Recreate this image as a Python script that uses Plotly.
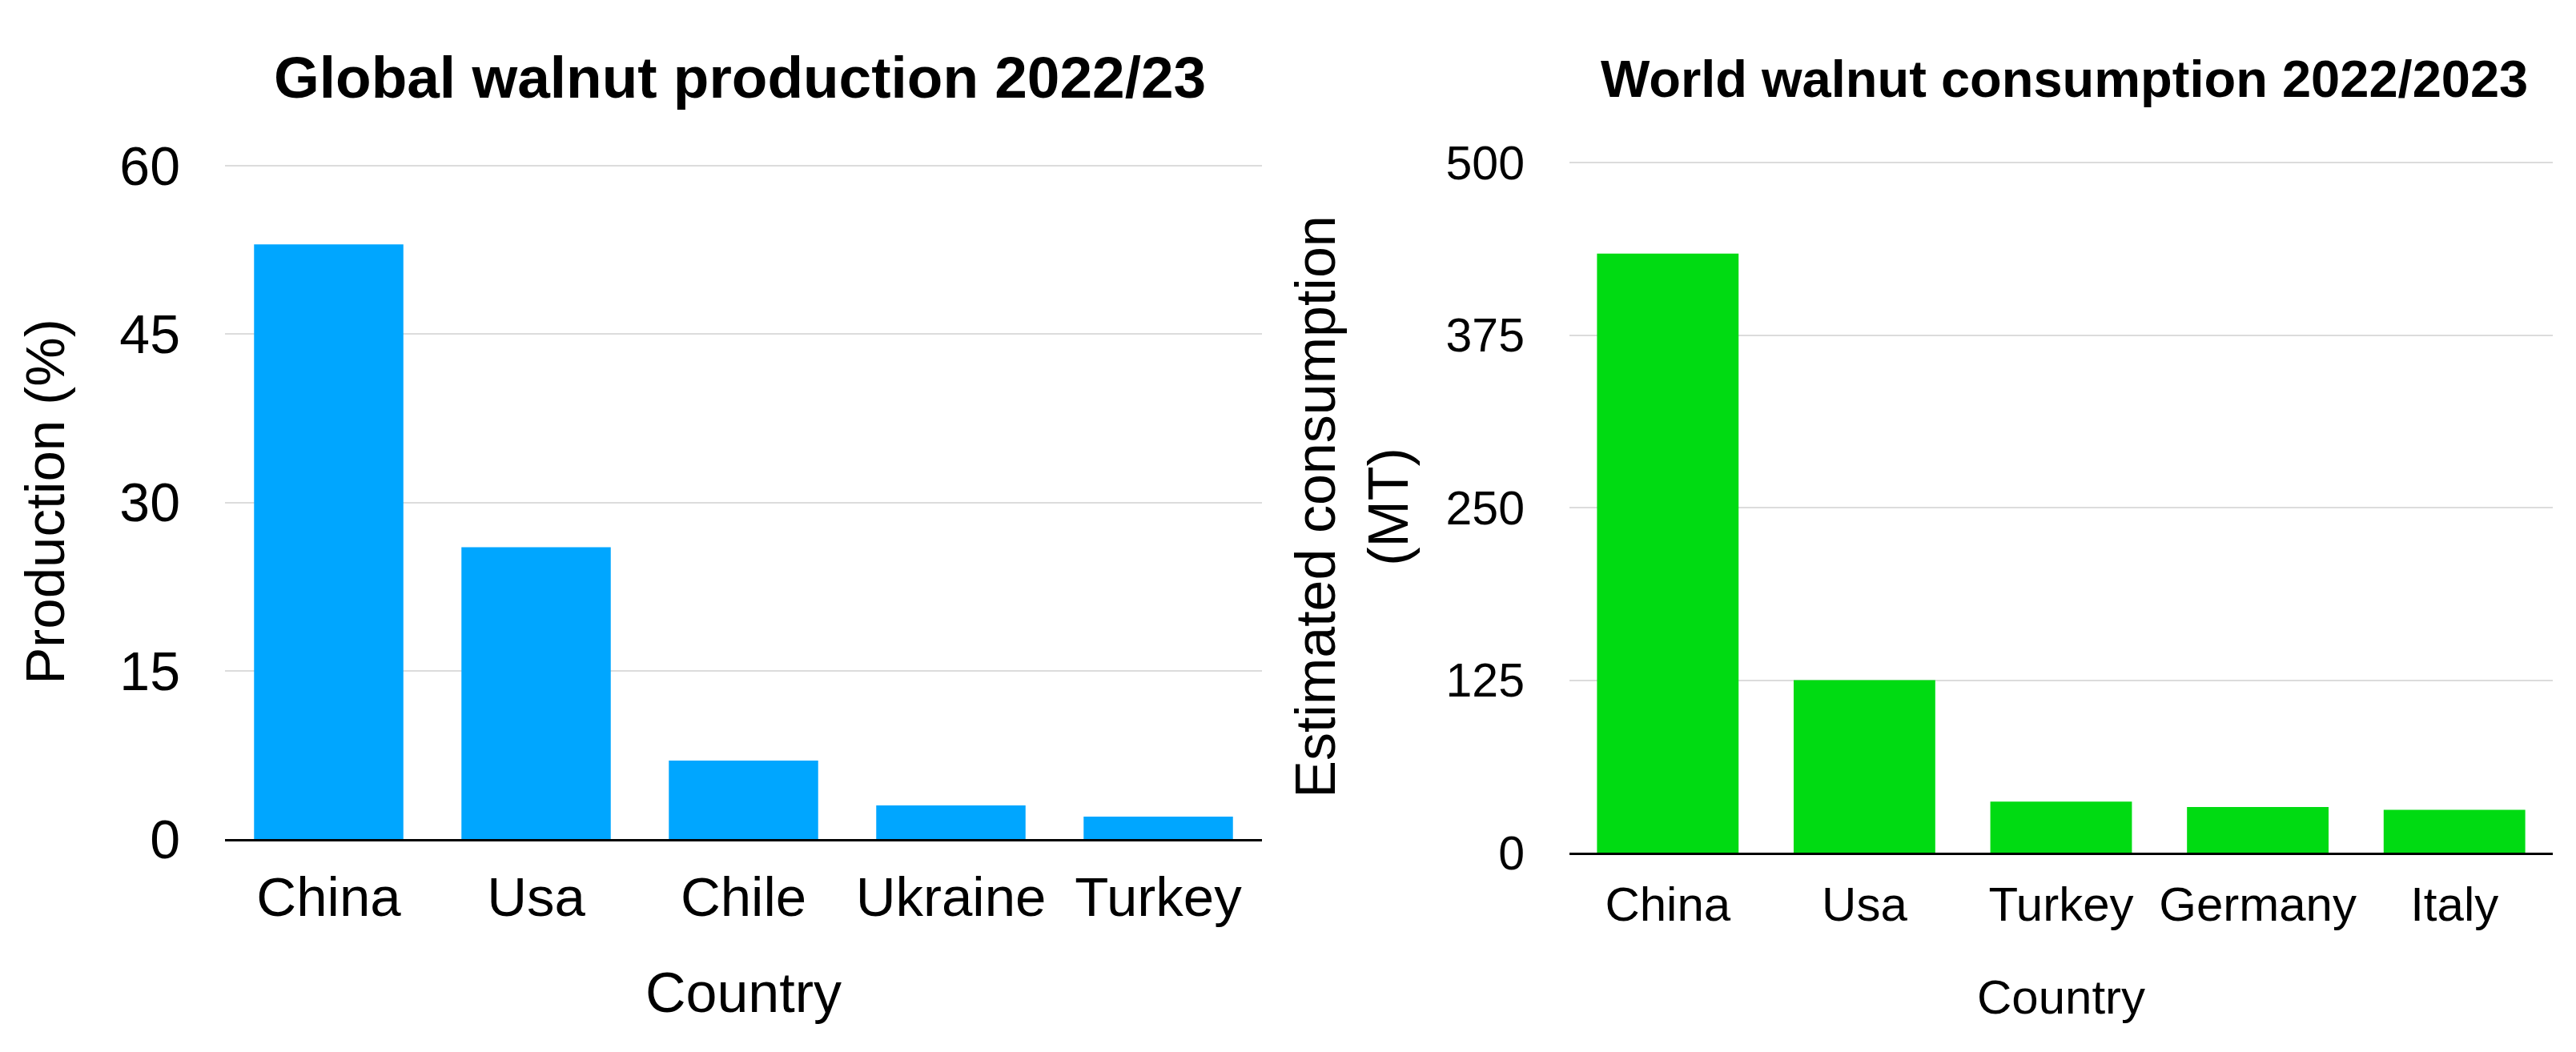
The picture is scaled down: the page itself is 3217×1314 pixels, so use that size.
import plotly.graph_objects as go

# ---- data ----
prod_countries = ["China", "Usa", "Chile", "Ukraine", "Turkey"]
prod_values = [53, 26, 7, 3, 2]
prod_ticks = [0, 15, 30, 45, 60]

cons_countries = ["China", "Usa", "Turkey", "Germany", "Italy"]
cons_values = [434, 125, 37, 33, 31]
cons_ticks = [0, 125, 250, 375, 500]

W, H = 3217, 1314
FONT = "Liberation Sans, Arial, Helvetica, sans-serif"
BLUE = "#00A6FF"
GREEN = "#00DB12"
GRID = "#DCDCDC"


def fx(p):
    return p / W


def fy(p):
    return 1 - p / H


fig = go.Figure()
fig.add_trace(go.Bar(x=prod_countries, y=prod_values, marker=dict(color=BLUE, line=dict(width=0)),
                     xaxis="x", yaxis="y", showlegend=False, name="Production (%)"))
fig.add_trace(go.Bar(x=cons_countries, y=cons_values, marker=dict(color=GREEN, line=dict(width=0)),
                     xaxis="x2", yaxis="y2", showlegend=False, name="Estimated consumption (MT)"))

common_x = dict(showline=True, linecolor="black", linewidth=3, ticks="", showgrid=False,
                zeroline=False, automargin=False)
common_y = dict(showline=False, ticks="", showgrid=True, gridcolor=GRID, gridwidth=2,
                zeroline=False, automargin=False)

fig.update_layout(
    width=W, height=H,
    margin=dict(l=0, r=0, t=0, b=0),
    paper_bgcolor="white", plot_bgcolor="white",
    font=dict(family=FONT, color="black"),
    bargap=0.28,
    showlegend=False,
    xaxis=dict(domain=[fx(273), fx(1568)], anchor="y",
               tickfont=dict(size=69), ticklabelstandoff=10,
               title=dict(text="Country", font=dict(size=70), standoff=58),
               **common_x),
    yaxis=dict(domain=[fy(1040), fy(197)], anchor="x", range=[0, 60.15],
               tickvals=prod_ticks, ticktext=[str(v) for v in prod_ticks],
               tickfont=dict(size=68), ticklabelstandoff=55,
               title=dict(text="Production (%)", font=dict(size=69), standoff=46),
               **common_y),
    xaxis2=dict(domain=[fx(1952), fx(3180)], anchor="y2",
                tickfont=dict(size=60), ticklabelstandoff=10,
                title=dict(text="Country", font=dict(size=60), standoff=62),
                **common_x),
    yaxis2=dict(domain=[fy(1057), fy(193)], anchor="x2", range=[0, 501.2],
                tickvals=cons_ticks, ticktext=[str(v) for v in cons_ticks],
                tickfont=dict(size=59), ticklabelstandoff=55,
                title=dict(text="Estimated consumption<br>(MT)", font=dict(size=70), standoff=24),
                **common_y),
    annotations=[
        dict(text="<b>Global walnut production 2022/23</b>", x=fx(916), y=fy(88),
             xref="paper", yref="paper", xanchor="center", yanchor="middle",
             showarrow=False, font=dict(size=73, family=FONT, color="black")),
        dict(text="<b>World walnut consumption 2022/2023</b>", x=fx(2570), y=fy(90),
             xref="paper", yref="paper", xanchor="center", yanchor="middle",
             showarrow=False, font=dict(size=65, family=FONT, color="black")),
    ],
)

fig.write_html("out.html")
